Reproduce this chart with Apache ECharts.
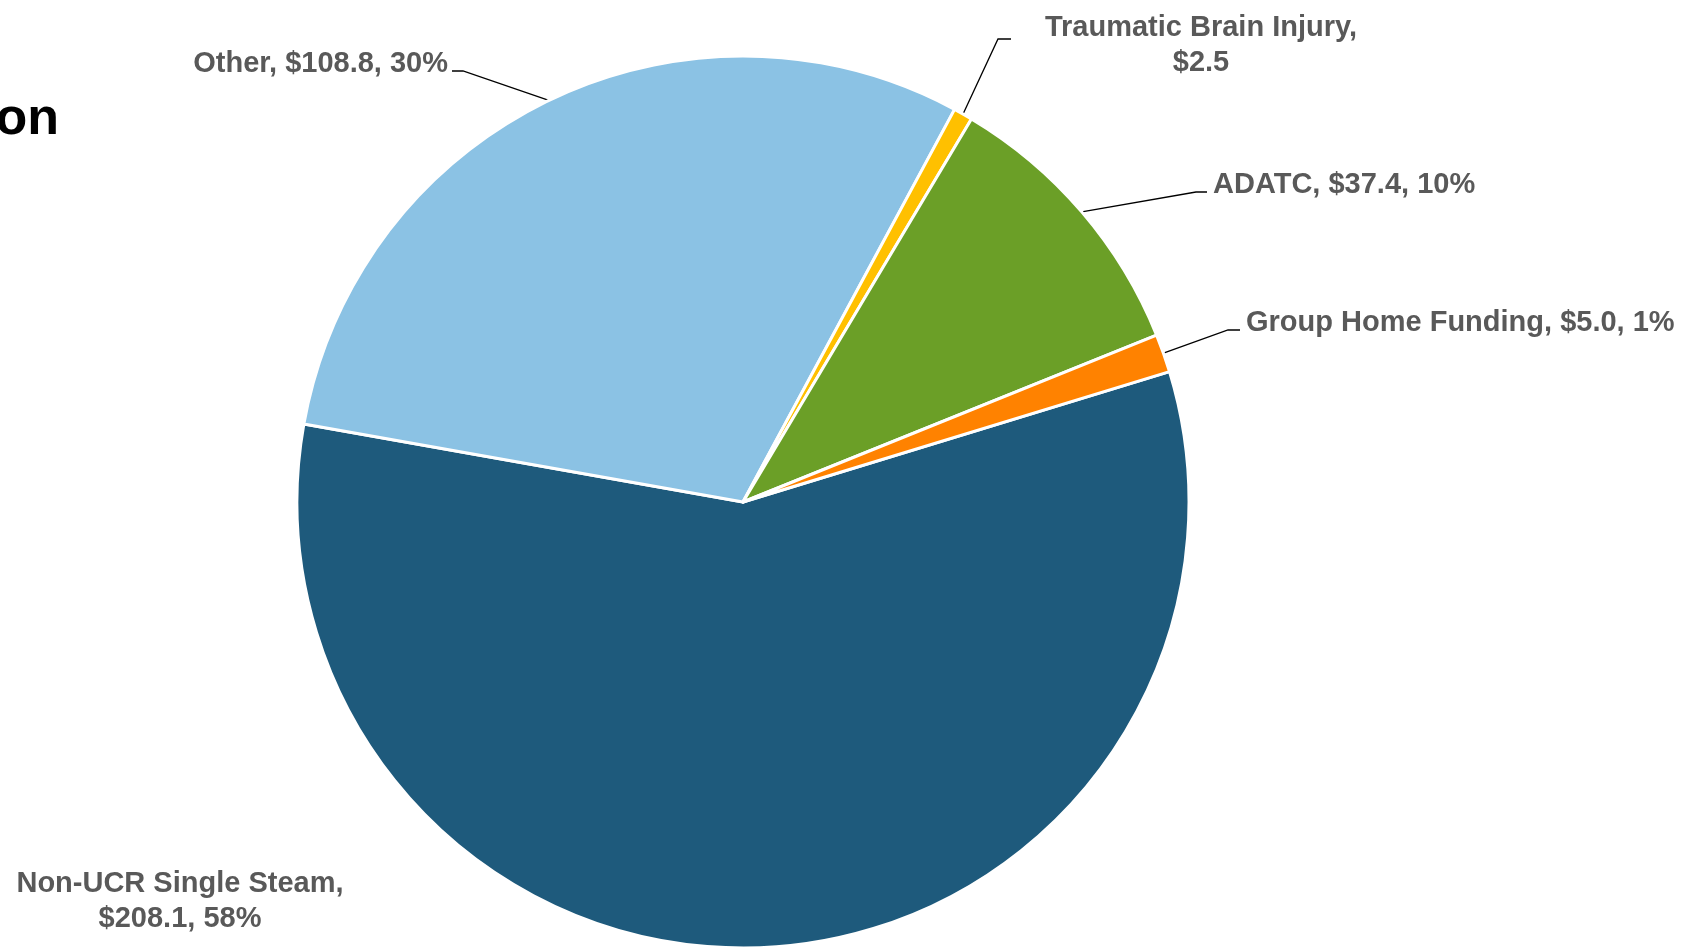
<!DOCTYPE html>
<html>
<head>
<meta charset="utf-8">
<script src="https://cdn.jsdelivr.net/npm/echarts@6/dist/echarts.min.js"></script>
<style>
  html, body {margin: 0; padding: 0; background: #fff;}
  #chart {width: 1690px; height: 952px;}
</style>
</head>
<body>
<div id="chart"></div>
<script>
const categories = ["Non-UCR Single Steam", "Other", "Traumatic Brain Injury", "ADATC", "Group Home Funding"];
const amounts = [208.1, 108.8, 2.5, 37.4, 5.0];
const showPercent = [true, true, false, true, true];
const wrapLabel = [true, false, true, false, false];
const colors = ["#1E5A7C", "#8BC2E4", "#FFC000", "#6B9F27", "#FF8200"];

// where each label sits, plus the leader elbow/end
const labelSpots = [
  {x: 180, y: 901, align: "center"},
  {x: 448, y: 64, align: "right", bend: [463, 71], end: [452, 71]},
  {x: 1201, y: 45, align: "center", bend: [998, 39], end: [1011, 39]},
  {x: 1213, y: 185, align: "left", bend: [1196, 192], end: [1207, 192]},
  {x: 1246, y: 323, align: "left", bend: [1228, 330], end: [1240, 330]},
];

const FONT = "'Liberation Sans', Arial, sans-serif";

const chart = echarts.init(document.getElementById("chart"));

const data = categories.map((name, i) => ({
  name: name,
  value: amounts[i],
  itemStyle: {color: colors[i]},
  labelLine: {show: i !== 0},
}));

chart.setOption({
  animation: false,
  graphic: [{
    type: "text",
    x: 59,
    y: 120,
    style: {
      text: "on",
      align: "right",
      verticalAlign: "middle",
      fill: "#000",
      font: "bold 52px " + FONT,
    },
  }],
  series: [{
    type: "pie",
    center: [743, 502],
    radius: 446,
    startAngle: 17,
    clockwise: true,
    avoidLabelOverlap: false,
    emphasis: {disabled: true},
    itemStyle: {borderColor: "#fff", borderWidth: 3},
    label: {
      show: true,
      position: "outside",
      color: "#595959",
      fontFamily: FONT,
      fontWeight: "bold",
      fontSize: 29,
      lineHeight: 35,
      formatter: function(p) {
        const i = p.dataIndex;
        let s = p.name + "," + (wrapLabel[i] ? "\n" : " ") + "$" + p.value.toFixed(1);
        if (showPercent[i]) {
          s += ", " + Math.round(p.percent) + "%";
        }
        return s;
      },
    },
    labelLine: {
      show: true,
      smooth: false,
      lineStyle: {color: "#000", width: 1.3},
    },
    labelLayout: function(params) {
      const spot = labelSpots[params.dataIndex];
      const out = {x: spot.x, y: spot.y, align: spot.align, verticalAlign: "middle"};
      if (spot.bend && params.labelLinePoints) {
        out.labelLinePoints = [params.labelLinePoints[0], spot.bend, spot.end];
      }
      return out;
    },
    data: data,
  }],
});
</script>
</body>
</html>
